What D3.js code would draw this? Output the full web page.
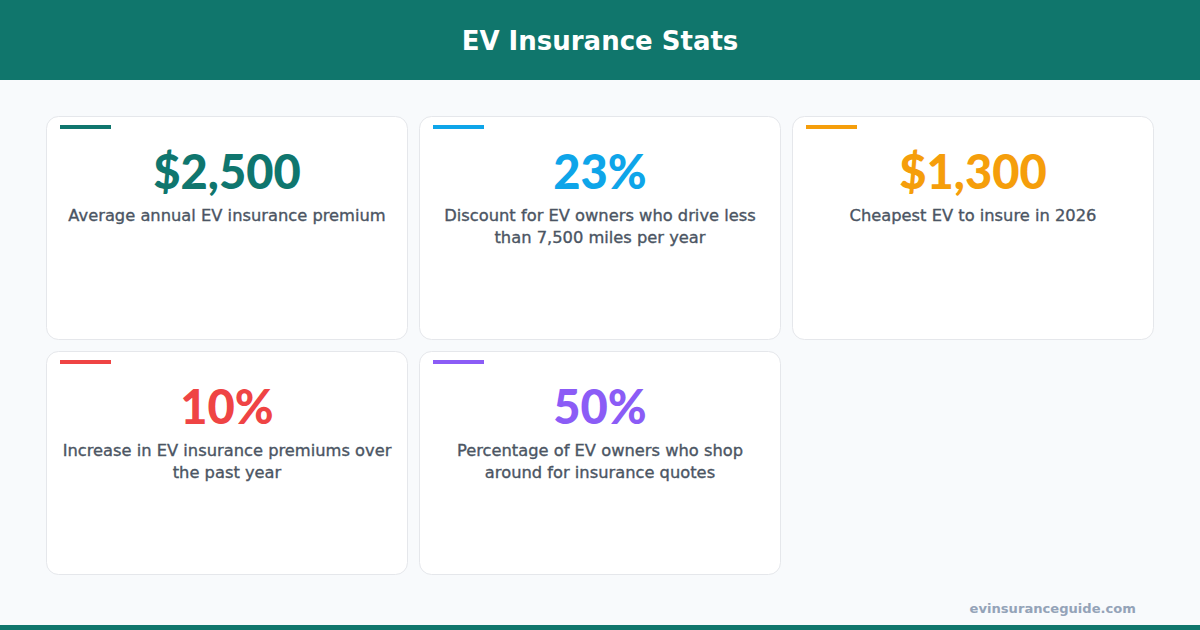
<!DOCTYPE html>
<html><head><meta charset="utf-8">
<script src="https://cdn.jsdelivr.net/npm/d3@7"></script>
<style>html,body{margin:0;padding:0;background:#f8fafc;}svg{display:block;}</style>
</head><body>
<svg id="c" width="1200" height="630"></svg>
<script>
const title = "EV Insurance Stats";
const statValues = ["$2,500", "23%", "$1,300", "10%", "50%"];
const statLabels = [
  "Average annual EV insurance premium",
  "Discount for EV owners who drive less\nthan 7,500 miles per year",
  "Cheapest EV to insure in 2026",
  "Increase in EV insurance premiums over\nthe past year",
  "Percentage of EV owners who shop\naround for insurance quotes"
];
const statColors = ["#0f766e", "#0ea5e9", "#f59e0b", "#ef4444", "#8b5cf6"];
const source = "evinsuranceguide.com";

const W = 1200, H = 630;
const svg = d3.select("#c");
const FONT = "'DejaVu Sans', sans-serif";
const NUMFONT = "Lato, 'Open Sans', sans-serif";

svg.append("rect").attr("width", W).attr("height", H).attr("fill", "#f8fafc");
svg.append("rect").attr("width", W).attr("height", 80).attr("fill", "#10766c");
svg.append("text").attr("x", W/2).attr("y", 50).attr("text-anchor", "middle")
  .attr("fill", "#ffffff").attr("font-family", FONT).attr("font-weight", 700)
  .attr("font-size", 26).text(title);

const cols = 3;
const colX = d3.scaleBand().domain(d3.range(cols)).range([46, 1154]).paddingInner(11/373);
const rowY = d3.scaleBand().domain([0, 1]).range([116, 575]).paddingInner(11/235);

const data = statValues.map((v, i) => ({v, label: statLabels[i], color: statColors[i], col: i % cols, row: Math.floor(i / cols)}));

const g = svg.selectAll("g.card").data(data).join("g").attr("class", "card")
  .attr("transform", d => `translate(${colX(d.col)},${rowY(d.row)})`);

g.append("rect").attr("x", 0.5).attr("y", 0.5)
  .attr("width", colX.bandwidth() - 1).attr("height", rowY.bandwidth() - 1)
  .attr("rx", 12).attr("fill", "#ffffff").attr("stroke", "#e5e7eb").attr("stroke-width", 1);

g.append("rect").attr("x", 14).attr("y", 9).attr("width", 51).attr("height", 4)
  .attr("fill", d => d.color);

g.append("text").attr("x", colX.bandwidth()/2).attr("y", 73).attr("text-anchor", "middle")
  .attr("fill", d => d.color).attr("font-family", NUMFONT).attr("font-weight", 900)
  .attr("font-size", 47).text(d => d.v);

g.append("text").attr("text-anchor", "middle").attr("fill", "#4b5563")
  .attr("stroke", "#4b5563").attr("stroke-width", 0.35)
  .attr("font-family", FONT).attr("font-size", 16.3)
  .each(function(d) {
    const t = d3.select(this);
    d.label.split("\n").forEach((line, k) => {
      t.append("tspan").attr("x", colX.bandwidth()/2).attr("y", 105 + k * 22).text(line);
    });
  });

svg.append("text").attr("x", 1136).attr("y", 613).attr("text-anchor", "end")
  .attr("fill", "#94a3b8").attr("font-family", FONT).attr("font-weight", 700)
  .attr("font-size", 13.1).text(source);

svg.append("rect").attr("x", 0).attr("y", 625).attr("width", W).attr("height", 5).attr("fill", "#10766c");
</script>
</body></html>
